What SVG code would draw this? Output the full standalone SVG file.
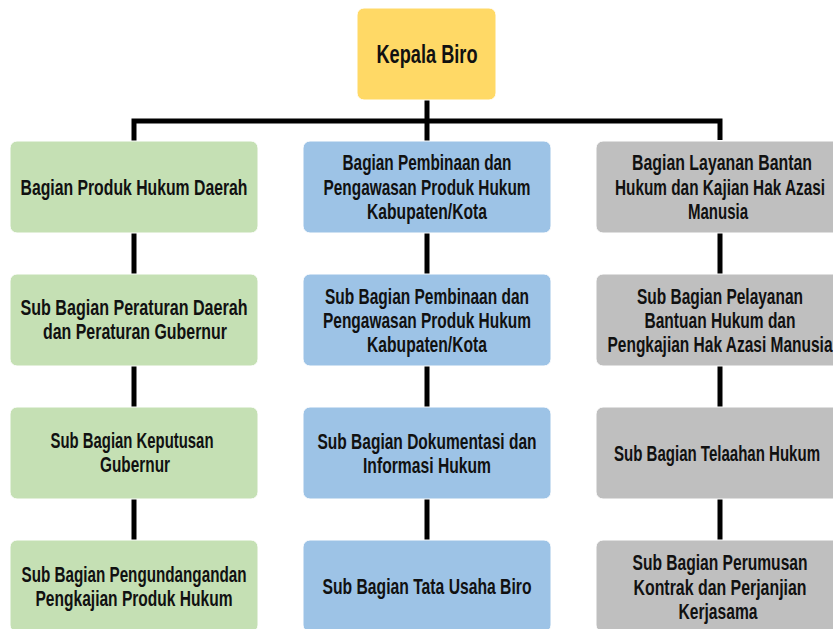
<svg xmlns="http://www.w3.org/2000/svg" width="833" height="629" viewBox="0 0 833 629">
<style>
.box{stroke:#ffffff;stroke-width:1}
.k{fill:#FFD966}.g{fill:#C5E0B4}.b{fill:#9DC3E6}.s{fill:#BFBFBF}
text{font-family:"Liberation Sans",Arial,sans-serif;font-weight:bold;font-size:22px;fill:#111111;text-anchor:middle}
.big{font-size:25px}
.conn{fill:none;stroke:#000;stroke-width:5;stroke-linejoin:miter}
</style>
<rect width="833" height="629" fill="#ffffff"/>
<g id="connectors" class="conn">
<path d="M427 100 V141"/>
<path d="M134 141 V121 H720 V140"/>
<path d="M134 233 V274 M134 366 V407 M134 499 V540"/>
<path d="M427 233 V274 M427 366 V407 M427 499 V540"/>
<path d="M720 233 V274 M720 366 V407 M720 499 V540"/>
</g>
<g id="kepala"><rect class="box k" x="357" y="8" width="139" height="92" rx="7"/><text class="big" x="427" y="63" textLength="101" lengthAdjust="spacingAndGlyphs">Kepala Biro</text></g>
<g id="c1r1"><rect class="box g" x="10" y="141" width="248" height="92" rx="7"/><text x="134" y="195" textLength="227" lengthAdjust="spacingAndGlyphs">Bagian Produk Hukum Daerah</text></g>
<g id="c1r2"><rect class="box g" x="10" y="274" width="248" height="92" rx="7"/><text x="134" y="315" textLength="227" lengthAdjust="spacingAndGlyphs">Sub Bagian Peraturan Daerah</text><text x="135" y="339" textLength="184" lengthAdjust="spacingAndGlyphs">dan Peraturan Gubernur</text></g>
<g id="c1r3"><rect class="box g" x="10" y="407" width="248" height="92" rx="7"/><text x="132" y="448" textLength="163" lengthAdjust="spacingAndGlyphs">Sub Bagian Keputusan</text><text x="135" y="472" textLength="70" lengthAdjust="spacingAndGlyphs">Gubernur</text></g>
<g id="c1r4"><rect class="box g" x="10" y="540" width="248" height="92" rx="7"/><text x="134" y="582" textLength="225" lengthAdjust="spacingAndGlyphs">Sub Bagian Pengundangandan</text><text x="134" y="606" textLength="197" lengthAdjust="spacingAndGlyphs">Pengkajian Produk Hukum</text></g>
<g id="c2r1"><rect class="box b" x="303" y="141" width="248" height="92" rx="7"/><text x="427" y="170" textLength="169" lengthAdjust="spacingAndGlyphs">Bagian Pembinaan dan</text><text x="427" y="195" textLength="207" lengthAdjust="spacingAndGlyphs">Pengawasan Produk Hukum</text><text x="427" y="219" textLength="120" lengthAdjust="spacingAndGlyphs">Kabupaten/Kota</text></g>
<g id="c2r2"><rect class="box b" x="303" y="274" width="248" height="92" rx="7"/><text x="427" y="304" textLength="204" lengthAdjust="spacingAndGlyphs">Sub Bagian Pembinaan dan</text><text x="427" y="328" textLength="208" lengthAdjust="spacingAndGlyphs">Pengawasan Produk Hukum</text><text x="427" y="352" textLength="120" lengthAdjust="spacingAndGlyphs">Kabupaten/Kota</text></g>
<g id="c2r3"><rect class="box b" x="303" y="407" width="248" height="92" rx="7"/><text x="427" y="449" textLength="219" lengthAdjust="spacingAndGlyphs">Sub Bagian Dokumentasi dan</text><text x="427" y="473" textLength="128" lengthAdjust="spacingAndGlyphs">Informasi Hukum</text></g>
<g id="c2r4"><rect class="box b" x="303" y="540" width="248" height="92" rx="7"/><text x="427" y="594" textLength="209" lengthAdjust="spacingAndGlyphs">Sub Bagian Tata Usaha Biro</text></g>
<g id="c3r1"><rect class="box s" x="596" y="141" width="248" height="92" rx="7"/><text x="722" y="170" textLength="180" lengthAdjust="spacingAndGlyphs">Bagian Layanan Bantan</text><text x="720" y="195" textLength="210" lengthAdjust="spacingAndGlyphs">Hukum dan Kajian Hak Azasi</text><text x="718" y="219" textLength="60" lengthAdjust="spacingAndGlyphs">Manusia</text></g>
<g id="c3r2"><rect class="box s" x="596" y="274" width="248" height="92" rx="7"/><text x="720" y="304" textLength="166" lengthAdjust="spacingAndGlyphs">Sub Bagian Pelayanan</text><text x="720" y="328" textLength="151" lengthAdjust="spacingAndGlyphs">Bantuan Hukum dan</text><text x="720" y="352" textLength="225" lengthAdjust="spacingAndGlyphs">Pengkajian Hak Azasi Manusia</text></g>
<g id="c3r3"><rect class="box s" x="596" y="407" width="248" height="92" rx="7"/><text x="717" y="461" textLength="206" lengthAdjust="spacingAndGlyphs">Sub Bagian Telaahan Hukum</text></g>
<g id="c3r4"><rect class="box s" x="596" y="540" width="248" height="92" rx="7"/><text x="720" y="570" textLength="175" lengthAdjust="spacingAndGlyphs">Sub Bagian Perumusan</text><text x="720" y="595" textLength="173" lengthAdjust="spacingAndGlyphs">Kontrak dan Perjanjian</text><text x="718" y="619" textLength="79" lengthAdjust="spacingAndGlyphs">Kerjasama</text></g>
</svg>
